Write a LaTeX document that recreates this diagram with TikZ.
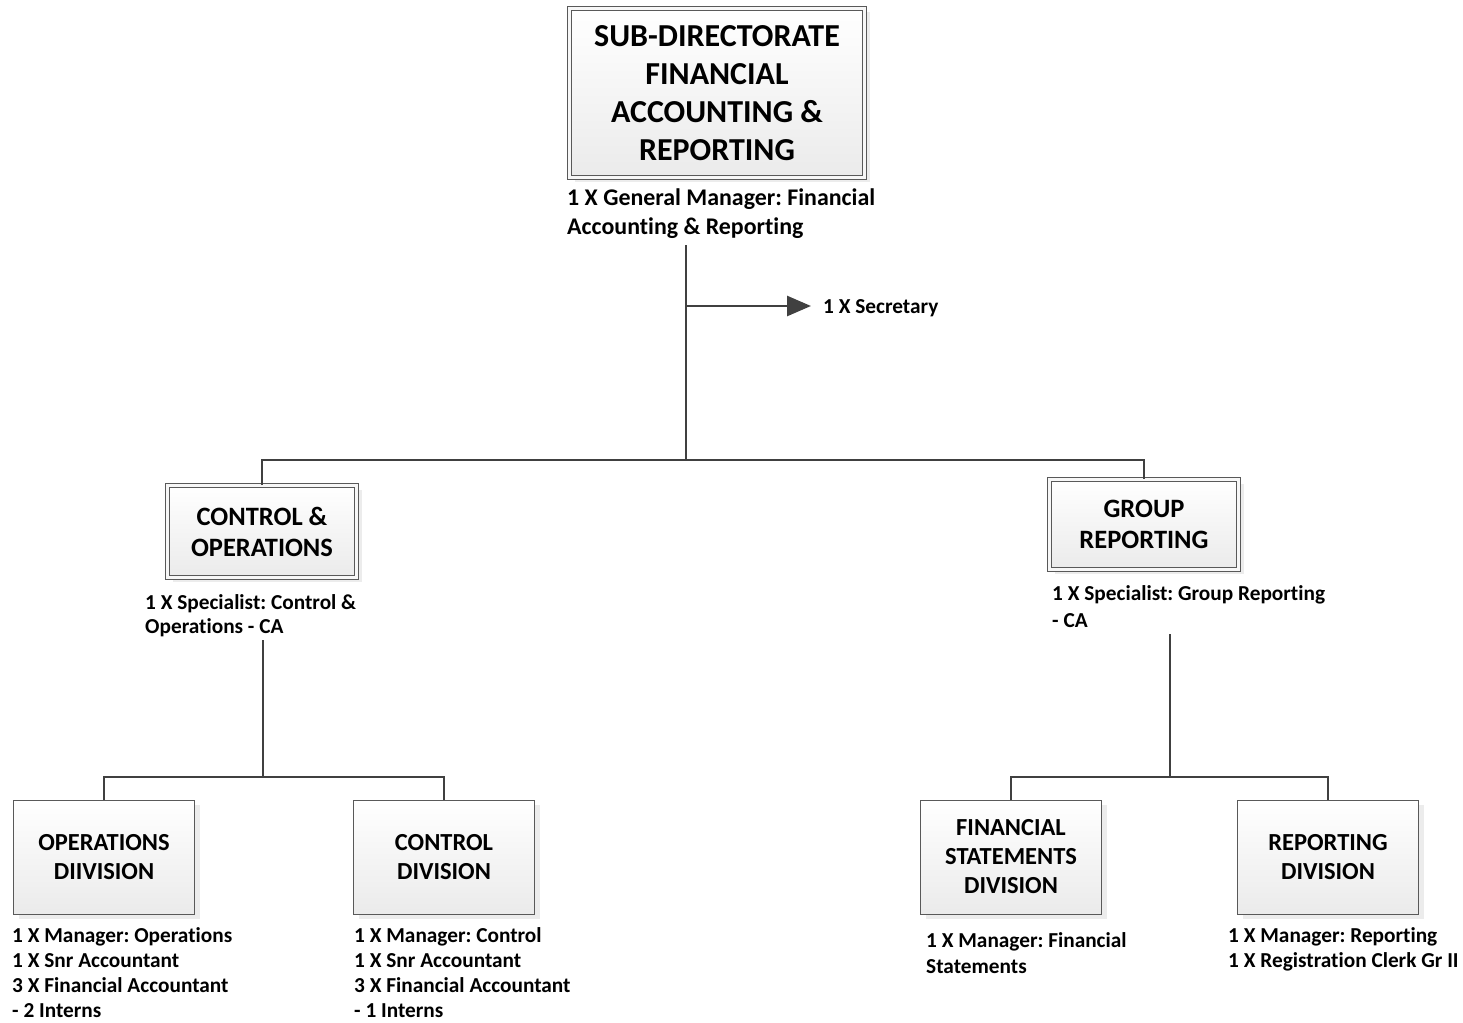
\documentclass[tikz,border=0pt]{standalone}
\usepackage{fontspec}
\setmainfont{Carlito}[Ligatures=NoCommon]
\frenchspacing
\usetikzlibrary{arrows.meta,shadows}
\definecolor{linegray}{HTML}{404040}
\definecolor{boxgray}{HTML}{7F7F7F}
\tikzset{
	headbox/.style={draw=boxgray!70!black, double=gray!6, double distance=3pt, line width=1pt,
		top color=white, bottom color=gray!16, inner sep=0pt, align=center,
		drop shadow={shadow xshift=5pt, shadow yshift=-4pt, fill=gray!30}},
	divbox/.style={draw=boxgray!70!black, line width=1pt, top color=white, bottom color=gray!16,
		inner sep=0pt, align=center, minimum width=181pt, minimum height=114pt,
		font=\bfseries\fontsize{24.5}{29}\selectfont,
		drop shadow={shadow xshift=5pt, shadow yshift=-5pt, fill=gray!30}},
	staff/.style={anchor=base west, align=left, inner sep=0pt, font=\bfseries\fontsize{21.3}{25}\selectfont},
	conn/.style={draw=linegray, line width=2.7pt},
	tip/.style={-{Triangle[length=24pt,width=20pt]}}
}
\begin{document}
\begin{tikzpicture}[x=1pt,y=-1pt]
	\useasboundingbox (0,0) rectangle (1463,1022);

	\node[headbox, minimum width=295pt, minimum height=169pt, font=\bfseries\fontsize{32}{38}\selectfont] (top) at (717,93)
		{SUB-DIRECTORATE\\FINANCIAL\\ACCOUNTING \&\\REPORTING};
	\node[staff, font=\bfseries\fontsize{23.9}{29}\selectfont] (gm) at (567,234)
		{1 X General Manager: Financial\\Accounting \& Reporting};
	\node[staff] (sec) at (823,313) {1 X Secretary};

	\node[headbox, minimum width=189pt, minimum height=92pt, font=\bfseries\fontsize{26.5}{31}\selectfont] (ctrl) at (262,531.5)
		{CONTROL \&\\OPERATIONS};
	\node[staff, font=\bfseries\fontsize{21.3}{24}\selectfont] (ctrlspec) at (145,633)
		{1 X Specialist: Control \&\\Operations - CA};

	\node[headbox, minimum width=189pt, minimum height=90pt, font=\bfseries\fontsize{26.5}{31}\selectfont] (grp) at (1144,524.5)
		{GROUP\\REPORTING};
	\node[staff, font=\bfseries\fontsize{21.3}{27}\selectfont] (grpspec) at (1052,627)
		{1 X Specialist: Group Reporting\\- CA};

	\node[divbox] (ops) at (104,857) {OPERATIONS\\DIIVISION};
	\node[staff] (opsstaff) at (12,1017)
		{1 X Manager: Operations\\1 X Snr Accountant\\3 X Financial Accountant\\- 2 Interns};
	\node[divbox] (ctrldiv) at (444,857) {CONTROL\\DIVISION};
	\node[staff] (ctrlstaff) at (354,1017)
		{1 X Manager: Control\\1 X Snr Accountant\\3 X Financial Accountant\\- 1 Interns};
	\node[divbox] (fs) at (1011,857) {FINANCIAL\\STATEMENTS\\DIVISION};
	\node[staff, font=\bfseries\fontsize{21.3}{26}\selectfont] (fsstaff) at (926,973)
		{1 X Manager: Financial\\Statements};
	\node[divbox] (rep) at (1328,857) {REPORTING\\DIVISION};
	\node[staff] (repstaff) at (1228,967)
		{1 X Manager: Reporting\\1 X Registration Clerk Gr II};

	\coordinate (gmfoot) at (686,245);
	\coordinate (secjoin) at (686,306);
	\coordinate (hub) at (686,460);
	\coordinate (ctrlfoot) at (263,640);
	\coordinate (ctrlhub) at (263,777);
	\coordinate (grpfoot) at (1170,634);
	\coordinate (grphub) at (1170,777);

	\draw[conn] (gmfoot) -- (hub);
	\draw[conn,tip] (secjoin) -- ([xshift=-12pt]secjoin -| sec.west);
	\draw[conn] (ctrl.north) |- (hub) -| (grp.north);

	\draw[conn] (ctrlfoot) -- (ctrlhub);
	\draw[conn] (ops.north) |- (ctrlhub) -| (ctrldiv.north);

	\draw[conn] (grpfoot) -- (grphub);
	\draw[conn] (fs.north) |- (grphub) -| (rep.north);
\end{tikzpicture}
\end{document}
